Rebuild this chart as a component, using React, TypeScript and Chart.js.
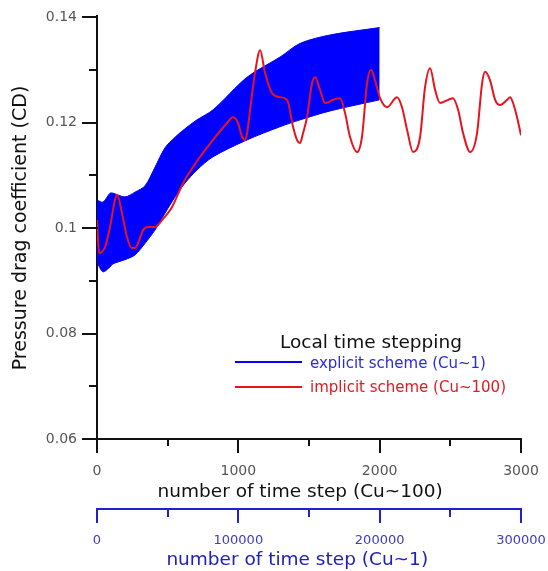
import { useEffect, useRef } from 'react';
import { Chart, registerables } from 'chart.js';

Chart.register(...registerables);

// ---- tick values ----
const yTicks = [0.06, 0.08, 0.1, 0.12, 0.14];
const yMinorTicks = [0.07, 0.09, 0.11, 0.13];
const xTicks = [0, 1000, 2000, 3000];
const xMinorTicks = [500, 1500, 2500];
const x2Ticks = [0, 100000, 200000, 300000];
const x2MinorTicks = [50000, 150000, 250000];

// ---- explicit scheme (Cu~1): envelope of the fast oscillation ----
const explicitSteps = [0, 42, 92, 113, 198, 269, 340, 410, 481, 552, 622, 707, 821, 1062, 1295, 1437, 1650, 2000];
const explicitUpper = [0.1053, 0.1049, 0.1066, 0.1066, 0.1059, 0.1068, 0.108, 0.1115, 0.1152, 0.1172, 0.1188, 0.1205, 0.1224, 0.1286, 0.1324, 0.135, 0.1366, 0.138];
const explicitLower = [0.0935, 0.0917, 0.0926, 0.0932, 0.094, 0.0949, 0.0971, 0.0996, 0.1028, 0.1059, 0.1085, 0.111, 0.1135, 0.1167, 0.1192, 0.1205, 0.1222, 0.1243];

// ---- implicit scheme (Cu~100) ----
const implicitSteps = [0, 15, 57, 92, 127, 142, 177, 212, 248, 269, 304, 326, 361, 410, 460, 531, 609, 729, 821, 920, 962, 998, 1026, 1047, 1062, 1083, 1118, 1154, 1189, 1238, 1295, 1345, 1387, 1415, 1437, 1458, 1486, 1522, 1543, 1578, 1614, 1670, 1720, 1755, 1790, 1840, 1875, 1911, 1939, 1967, 2003, 2052, 2123, 2158, 2194, 2236, 2286, 2321, 2357, 2392, 2427, 2484, 2519, 2555, 2590, 2640, 2689, 2725, 2746, 2781, 2817, 2852, 2902, 2923, 2944, 2972, 3000];
const implicitCD = [0.1015, 0.0952, 0.0964, 0.1002, 0.1053, 0.1063, 0.1028, 0.0983, 0.0962, 0.0962, 0.0981, 0.0996, 0.1002, 0.1002, 0.1015, 0.104, 0.1085, 0.1135, 0.1167, 0.1199, 0.121, 0.1199, 0.1173, 0.1167, 0.118, 0.1224, 0.1294, 0.1337, 0.1294, 0.1256, 0.1248, 0.1243, 0.1192, 0.1167, 0.1161, 0.118, 0.121, 0.1275, 0.1286, 0.1262, 0.1237, 0.1243, 0.1246, 0.1218, 0.1173, 0.1144, 0.1173, 0.1275, 0.13, 0.128, 0.1246, 0.1229, 0.1248, 0.1229, 0.1186, 0.1144, 0.1173, 0.1267, 0.1303, 0.1262, 0.1237, 0.1243, 0.1246, 0.1224, 0.118, 0.1144, 0.118, 0.1275, 0.1296, 0.128, 0.1243, 0.1233, 0.1243, 0.1248, 0.1237, 0.121, 0.1176];

const legendTitle = 'Local time stepping';
const explicitLabel = 'explicit scheme (Cu~1)';
const implicitLabel = 'implicit scheme (Cu~100)';

const FONT = "'DejaVu Sans', sans-serif";
const BLUE = '#0000ff';
const RED = '#e8141c';
const AXIS_BLUE = '#2222cc';
const LABEL_GREY = '#555555';

const noHPad = (s: any, h: number) => {
  s.height = h;
  s.paddingLeft = 0;
  s.paddingRight = 0;
};

export default function App() {
  const ref = useRef<HTMLCanvasElement>(null);

  useEffect(() => {
    if (!ref.current) return;

    const ticksPlugin = {
      id: 'axisTicks',
      afterDraw(chart: any) {
        const ctx = chart.ctx;
        const xs = chart.scales.x;
        const ys = chart.scales.y;
        const x2s = chart.scales.x2;
        const left = chart.chartArea.left;
        ctx.save();
        ctx.lineWidth = 2;
        ctx.lineCap = 'butt';
        ctx.strokeStyle = '#111111';
        const line = (ax: number, ay: number, bx: number, by: number) => {
          ctx.beginPath();
          ctx.moveTo(ax, ay);
          ctx.lineTo(bx, by);
          ctx.stroke();
        };
        // y axis slightly overshoots the top tick
        const topP = Math.round(ys.getPixelForValue(yTicks[yTicks.length - 1]));
        line(left, topP, left, topP - 2);
        yTicks.forEach((v) => {
          const p = Math.round(ys.getPixelForValue(v));
          line(left + 1, p, left - 15, p);
        });
        yMinorTicks.forEach((v) => {
          const p = Math.round(ys.getPixelForValue(v));
          line(left + 1, p, left - 8, p);
        });
        const xBase = xs.top;
        xTicks.forEach((v) => {
          const p = Math.round(xs.getPixelForValue(v));
          line(p, xBase - 1, p, xBase + 14);
        });
        xMinorTicks.forEach((v) => {
          const p = Math.round(xs.getPixelForValue(v));
          line(p, xBase - 1, p, xBase + 7);
        });
        ctx.strokeStyle = AXIS_BLUE;
        const x2Base = x2s.top;
        x2Ticks.forEach((v) => {
          const p = Math.round(x2s.getPixelForValue(v));
          line(p, x2Base - 1, p, x2Base + 14);
        });
        x2MinorTicks.forEach((v) => {
          const p = Math.round(x2s.getPixelForValue(v));
          line(p, x2Base - 1, p, x2Base + 8);
        });
        ctx.restore();
      },
    };

    const legendPlugin = {
      id: 'customLegend',
      afterDraw(chart: any) {
        const ctx = chart.ctx;
        ctx.save();
        ctx.textAlign = 'left';
        ctx.textBaseline = 'alphabetic';
        ctx.fillStyle = '#111111';
        ctx.font = `18.5px ${FONT}`;
        ctx.fillText(legendTitle, 280, 348);
        ctx.lineWidth = 2;
        ctx.strokeStyle = BLUE;
        ctx.beginPath();
        ctx.moveTo(235, 362);
        ctx.lineTo(302, 362);
        ctx.stroke();
        ctx.strokeStyle = RED;
        ctx.beginPath();
        ctx.moveTo(235, 387);
        ctx.lineTo(302, 387);
        ctx.stroke();
        ctx.font = `15px ${FONT}`;
        ctx.fillStyle = '#2b2bd8';
        ctx.fillText(explicitLabel, 310, 368);
        ctx.fillStyle = '#e3191f';
        ctx.fillText(implicitLabel, 310, 392);
        ctx.restore();
      },
    };

    const chart = new Chart(ref.current, {
      type: 'line',
      data: {
        datasets: [
          {
            label: implicitLabel,
            data: implicitSteps.map((t, i) => ({ x: t, y: implicitCD[i] })),
            borderColor: RED,
            borderWidth: 2,
            pointRadius: 0,
            fill: false,
            cubicInterpolationMode: 'monotone',
          },
          {
            label: explicitLabel,
            data: explicitSteps.map((t, i) => ({ x: t, y: explicitUpper[i] })),
            borderColor: BLUE,
            backgroundColor: BLUE,
            borderWidth: 1,
            pointRadius: 0,
            fill: '+1',
            tension: 0.3,
          },
          {
            label: explicitLabel + ' lower',
            data: explicitSteps.map((t, i) => ({ x: t, y: explicitLower[i] })),
            borderColor: BLUE,
            borderWidth: 1,
            pointRadius: 0,
            fill: false,
            tension: 0.3,
          },
        ],
      },
      options: {
        animation: false,
        responsive: false,
        layout: { padding: { left: 0, right: 27, top: 17, bottom: 0 } },
        plugins: {
          legend: { display: false },
          tooltip: { enabled: false },
        },
        scales: {
          x: {
            type: 'linear',
            position: 'bottom',
            weight: 0,
            min: 0,
            max: 3000,
            afterBuildTicks: (s: any) => {
              s.ticks = xTicks.map((v) => ({ value: v }));
            },
            afterFit: (s: any) => noHPad(s, 70),
            grid: { display: false, drawTicks: false },
            border: { display: true, color: '#111111', width: 2 },
            ticks: {
              callback: (v: any) => String(v),
              color: LABEL_GREY,
              font: { family: FONT, size: 14 },
              padding: 24,
              maxRotation: 0,
              autoSkip: false,
            },
            title: {
              display: true,
              text: 'number of time step (Cu~100)   ',
              color: '#111111',
              font: { family: FONT, size: 18.5 },
              padding: { top: 0, bottom: 6 },
            },
          },
          x2: {
            type: 'linear',
            position: 'bottom',
            axis: 'x',
            weight: 1,
            min: 0,
            max: 300000,
            afterBuildTicks: (s: any) => {
              s.ticks = x2Ticks.map((v) => ({ value: v }));
            },
            afterFit: (s: any) => noHPad(s, 62),
            grid: { display: false, drawTicks: false },
            border: { display: true, color: AXIS_BLUE, width: 2 },
            ticks: {
              callback: (v: any) => String(v),
              color: '#3a3ad0',
              font: { family: FONT, size: 13 },
              padding: 24,
              maxRotation: 0,
              autoSkip: false,
            },
            title: {
              display: true,
              text: 'number of time step (Cu~1)    ',
              color: '#2020c0',
              font: { family: FONT, size: 18.5 },
              padding: { top: 0, bottom: 0 },
            },
          },
          y: {
            type: 'linear',
            position: 'left',
            min: 0.06,
            max: 0.14,
            afterBuildTicks: (s: any) => {
              s.ticks = yTicks.map((v) => ({ value: v }));
            },
            afterFit: (s: any) => {
              s.width = 97;
              s.paddingTop = 0;
              s.paddingBottom = 0;
            },
            grid: { display: false, drawTicks: false },
            border: { display: true, color: '#111111', width: 2 },
            ticks: {
              callback: (v: any) => String(v),
              color: LABEL_GREY,
              font: { family: FONT, size: 14 },
              padding: 20,
              autoSkip: false,
            },
            title: {
              display: true,
              text: 'Pressure drag coefficient (CD)',
              color: '#111111',
              font: { family: FONT, size: 19 },
              padding: { top: 10, bottom: 0 },
            },
          },
        },
      },
      plugins: [ticksPlugin, legendPlugin],
    } as any);

    return () => chart.destroy();
  }, []);

  return (
    <div style={{ position: 'absolute', left: 0, top: 0, width: 548, height: 571, background: '#ffffff' }}>
      <canvas ref={ref} width={548} height={571} style={{ display: 'block' }} />
    </div>
  );
}
